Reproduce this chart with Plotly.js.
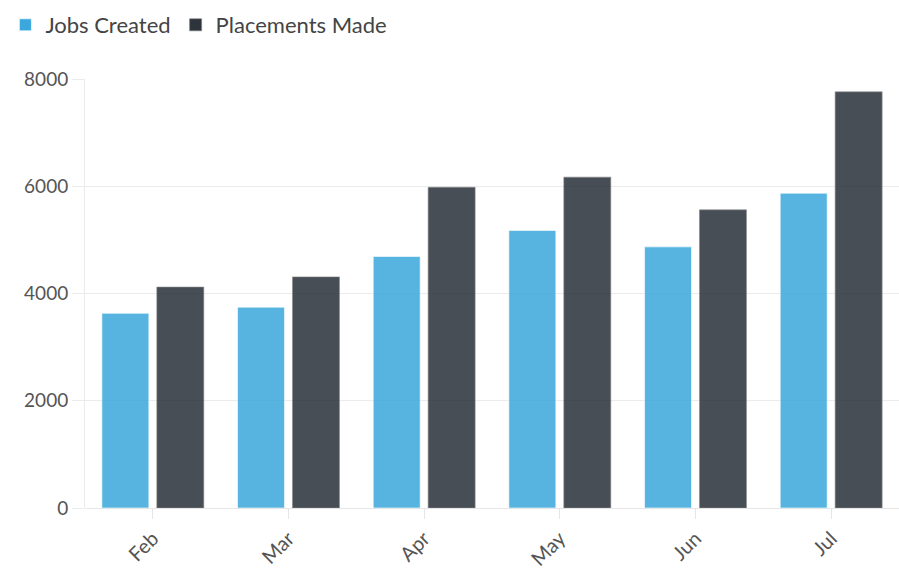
<!DOCTYPE html>
<html><head><meta charset="utf-8">
<script src="https://cdn.plot.ly/plotly-3.0.1.min.js"></script>
<style>body{margin:0;background:#fff}#c{width:899px;height:574px}</style>
</head><body><div id="c"></div>
<script>
var months = ["Feb","Mar","Apr","May","Jun","Jul"];
var jobsCreated = [3630,3745,4690,5175,4870,5870];
var placementsMade = [4120,4310,5980,6170,5560,7760];
var yTicks = [0,2000,4000,6000,8000];

var traces = [
  {type:'bar', name:'Jobs Created', x:months, y:jobsCreated,
   marker:{color:'#3aa8dc', opacity:0.85, line:{color:'rgba(255,255,255,0.6)', width:1}}},
  {type:'bar', name:'Placements Made', x:months, y:placementsMade,
   marker:{color:'#2d343c', opacity:0.87, line:{color:'rgba(120,120,120,0.6)', width:1}}}
];
var layout = {
  width:899, height:574,
  margin:{l:85, r:0, t:79, b:66},
  paper_bgcolor:'#fff', plot_bgcolor:'#fff',
  font:{family:'Lato, "Noto Sans", sans-serif', size:19, color:'#555'},
  barmode:'group', bargap:0.19, bargroupgap:0.145,
  showlegend:true,
  legend:{orientation:'h', xref:'container', yref:'container', x:0.006, y:0.993, xanchor:'left', yanchor:'top',
          font:{size:22, color:'#444'}, tracegroupgap:0},
  xaxis:{tickangle:-45, showgrid:false, ticks:'outside', ticklen:10, tickcolor:'#e6e6e6',
         showline:false, tickfont:{size:20, color:'#555'}},
  yaxis:{range:[0,8000], tickvals:yTicks, ticktext:yTicks.map(String), gridcolor:'#ebebeb', gridwidth:1,
         zeroline:true, zerolinecolor:'#e6e6e6', showline:true, linecolor:'#ebebeb', linewidth:1,
         ticks:'outside', ticklen:12, tickcolor:'#ebebeb', tickfont:{size:19, color:'#555'}}
};
Plotly.newPlot('c', traces, layout, {displayModeBar:false});
</script></body></html>
